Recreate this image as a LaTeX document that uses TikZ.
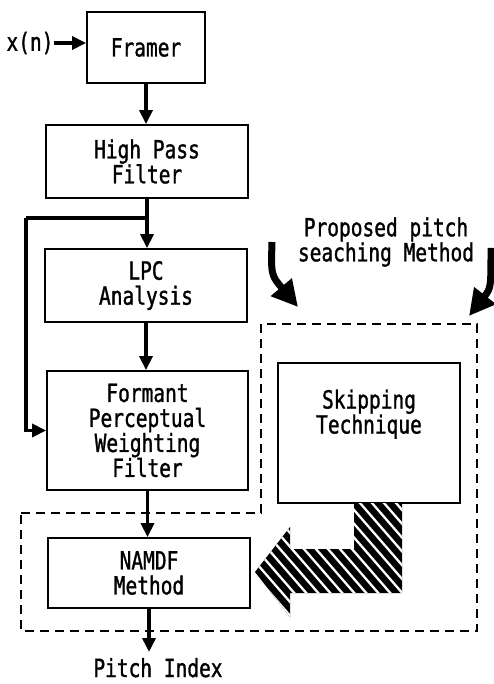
\documentclass[tikz,border=0pt]{standalone}
\usepackage{fontspec}
\setmainfont[FakeStretch=0.78,FakeBold=1.2]{DejaVu Sans Mono}
\usetikzlibrary{arrows.meta}
\begin{document}
\begin{tikzpicture}[x=1pt,y=-1pt,
  box/.style={draw, line width=1.8pt, align=center, inner sep=0pt, font=\fontsize{25}{25}\selectfont},
  lbl/.style={align=center, inner sep=0pt, font=\fontsize{25}{25}\selectfont},
  flow/.style={line width=3.8pt, -{Triangle[length=14pt,width=13pt]}},
  bigarr/.style={line width=7pt, -{Triangle[length=26pt,width=26pt]}},
  region/.style={line width=1.6pt, dash pattern=on 9pt off 6pt}]
\useasboundingbox (0,0) rectangle (494,684);
% boxes
\node[box, minimum width=118pt, minimum height=71pt] (fr) at (146,47.5) {Framer};
\node[box, minimum width=202pt, minimum height=73pt] (hpf) at (147,161.5) {High Pass\\ Filter};
\node[box, minimum width=202pt, minimum height=73pt] (lpc) at (146,285.5) {LPC\\Analysis};
\node[box, minimum width=201pt, minimum height=119pt] (fpw) at (147.5,430.5) {Formant\\Perceptual\\Weighting\\Filter};
\node[box, minimum width=202pt, minimum height=70pt] (nam) at (149,573) {NAMDF\\Method};
\node[box, minimum width=182pt, minimum height=140pt] (skp) at (369,433) {Skipping\\Technique\\[18pt]};
% labels
\node[lbl] (xn) at (30,43) {x(n)};
\node[inner sep=0pt, font=\fontsize{25}{25}\selectfont, anchor=base] (pi) at (158,677) {Pitch Index};
\node[lbl] (pp) at (386,242) {Proposed pitch\\seaching Method};
% flow arrows
\draw[flow] (xn.east) -- (xn.east -| fr.west);
\draw[flow] (fr.south) -- (fr.south |- hpf.north);
\draw[flow] (hpf.south) -- (hpf.south |- lpc.north);
\coordinate (br) at (146,218);
\coordinate (bl) at (26,218);
\draw[flow, -] (br) -- (bl);
\draw[flow] (bl) |- (fpw.west);
\draw[flow] (lpc.south) -- (lpc.south |- fpw.north);
\draw[flow] (fpw.south) -- (fpw.south |- nam.north);
\coordinate (po) at (149,652);
\draw[flow] (nam.south) -- (po);
% dashed region
\draw[region] (21,513) -- (261,513) -- (261,324) -- (477,324) -- (477,631) -- (21,631) -- cycle;
% curved arrows
\coordinate (la0) at (272,242);
\coordinate (la1) at (298,307);
\draw[bigarr] (la0) .. controls (271,275) .. (la1);
\coordinate (ra0) at (491,248);
\coordinate (ra1) at (469,316);
\draw[bigarr] (ra0) .. controls (491,288) .. (ra1);
% hatched arrow
\begin{scope}
\path[clip] (354,503) -- (402,503) -- (402,593) -- (290,593) -- (290,617) -- (255,572) -- (290,527) -- (290,549) -- (354,549) -- cycle;
\fill[black] (250,500) rectangle (405,620);
\foreach \x in {100,112,...,410} \draw[white, line width=2.3pt] (\x,480) -- ++(150,172.5);
\end{scope}
\end{tikzpicture}
\end{document}
